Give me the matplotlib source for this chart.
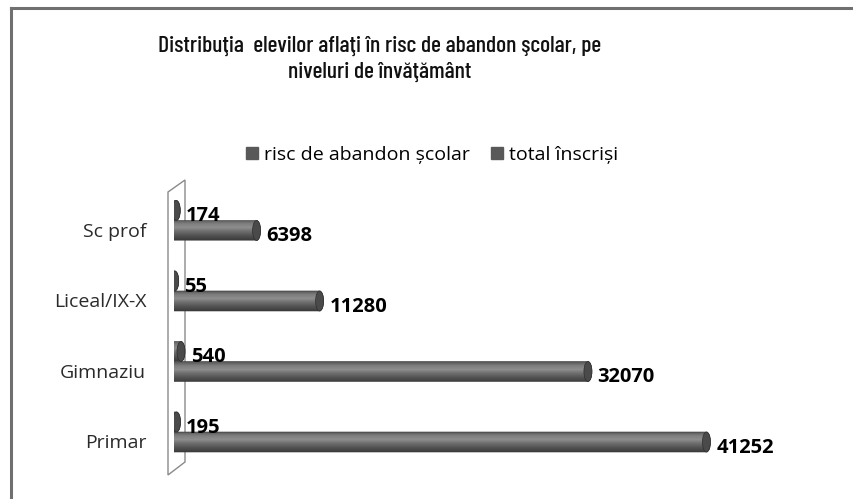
import numpy as np
import matplotlib
matplotlib.use('Agg')
import matplotlib.pyplot as plt
from matplotlib import font_manager
from matplotlib.font_manager import FontProperties
from matplotlib.textpath import TextPath
from matplotlib.patches import Ellipse, Polygon, Patch
from matplotlib.colors import LinearSegmentedColormap

# Date
categories = ['Primar', 'Gimnaziu', 'Liceal/IX-X', 'Sc prof']
risc = [195, 540, 55, 174]
total = [41252, 32070, 11280, 6398]
series_names = ['risc de abandon școlar', 'total înscriși']
title = 'Distribuţia  elevilor aflaţi în risc de abandon şcolar, pe\nniveluri de învăţământ'

# fonturi: pentru titlu cautam o varianta ingusta (narrow / condensed), semi-groasa
fonts = font_manager.fontManager.ttflist
installed = {f.name for f in fonts}


def weight_num(w):
    if isinstance(w, str):
        return font_manager.weight_dict.get(w, 400)
    return int(w)


line1 = title.split('\n')[0]
cands = [f for f in fonts
         if f.style == 'normal' and 500 <= weight_num(f.weight) <= 700 and 'CJK' not in f.name
         and ('Narrow' in f.name or 'Condensed' in f.name or
              str(f.stretch) in ('condensed', 'semi-condensed'))][:12]
best_fp, best_w = None, 1e9
for f in cands:
    fp = FontProperties(fname=f.fname, size=10)
    try:
        w = TextPath((0, 0), line1, prop=fp).get_extents().width
    except Exception:
        continue
    if w < best_w:
        best_fp, best_w = fp, w
if best_fp is None:
    best_fp = FontProperties(family='Liberation Sans', weight='bold', size=10)
    best_w = TextPath((0, 0), line1, prop=best_fp).get_extents().width
# latimea dorita a primului rand ~500 px = 360 pt
title_fp = best_fp.copy()
title_fp.set_size(min(10 * 360 / best_w, 17))
label_font = 'Open Sans' if 'Open Sans' in installed else 'DejaVu Sans'

W, H = 854, 499
fig = plt.figure(figsize=(W / 100, H / 100), dpi=100)

# cadrul graficului (se vad doar marginile stanga si sus)
fig.add_artist(plt.Line2D([11 / W, 11 / W], [0, 1 - 8 / H], color='#707070', lw=2.2))
fig.add_artist(plt.Line2D([11 / W, 1], [1 - 8 / H, 1 - 8 / H], color='#707070', lw=2.2))

# peretele 3D din stanga
wall = Polygon([(168 / W, 1 - 192 / H), (185 / W, 1 - 180 / H),
                (185 / W, 1 - 462 / H), (168 / W, 1 - 475 / H)],
               closed=True, facecolor='none', edgecolor='#8a8a8a', lw=1.0,
               transform=fig.transFigure, zorder=-1)
fig.add_artist(wall)

ax_left, ax_right = 174, 800
ax = fig.add_axes([ax_left / W, 29 / H, (ax_right - ax_left) / W, 290 / H])
ax.patch.set_visible(False)
xmax = 48500
ymin, ymax = -0.539, 3.574
px_x = (ax_right - ax_left) / xmax  # pixeli pe unitate

cmap = LinearSegmentedColormap.from_list('cyl', ['#4e4e4e', '#7c7c7c', '#8e8e8e', '#6c6c6c',
                                                 '#525252', '#3c3c3c'])
grad = np.linspace(0, 1, 64).reshape(-1, 1)

bar_h = 0.284
cap_w = 8 / px_x


def cylinder(yc, value):
    t = np.linspace(-np.pi / 2, np.pi / 2, 40)
    right = np.column_stack([value + cap_w / 2 * np.cos(t), yc + bar_h / 2 * np.sin(t)])
    left = np.column_stack([-cap_w / 2 * np.cos(t), yc - bar_h / 2 * np.sin(t)])
    body = Polygon(np.vstack([right, left]), closed=True, facecolor='none',
                   edgecolor='#3a3a3a', lw=0.4, zorder=3)
    ax.add_patch(body)
    im = ax.imshow(grad, cmap=cmap, aspect='auto', origin='upper',
                   extent=[-cap_w / 2, value + cap_w / 2, yc - bar_h / 2, yc + bar_h / 2],
                   zorder=2)
    im.set_clip_path(body)
    cap = Ellipse((value, yc), cap_w, bar_h, facecolor='#4a4a4a', edgecolor='#2e2e2e',
                  lw=0.5, zorder=4)
    ax.add_patch(cap)


for i, (r, t_) in enumerate(zip(risc, total)):
    for val, yc in ((r, i + bar_h / 2), (t_, i - bar_h / 2)):
        cylinder(yc, val)
        ax.annotate(str(val), xy=(val, yc), xytext=(7, -4), textcoords='offset points',
                    va='center', ha='left', fontsize=14.5, fontweight='bold',
                    family=label_font, color='black', zorder=5)

ax.set_xlim(0, xmax)
ax.set_ylim(ymin, ymax)
ax.set_xticks([])
ax.set_yticks([i - 0.13 for i in range(len(categories))])
ax.set_yticklabels(categories, fontsize=14, family=label_font, color='#2a2a2a')
ax.tick_params(axis='y', length=0, pad=20)
for s in ax.spines.values():
    s.set_visible(False)

fig.text(0.445, 1 - 59 / H, title, ha='center', va='center', fontproperties=title_fp,
         linespacing=1.35, color='#111111')

handles = [Patch(facecolor='#595959', edgecolor='#595959', label=n) for n in series_names]
fig.legend(handles=handles, loc='center', bbox_to_anchor=(432 / W, 1 - 155 / H), ncol=2,
           frameon=False, prop={'family': label_font, 'size': 14}, handlelength=0.6,
           handleheight=0.6, columnspacing=1.1, handletextpad=0.3)

fig.savefig('out.png', dpi=100)
